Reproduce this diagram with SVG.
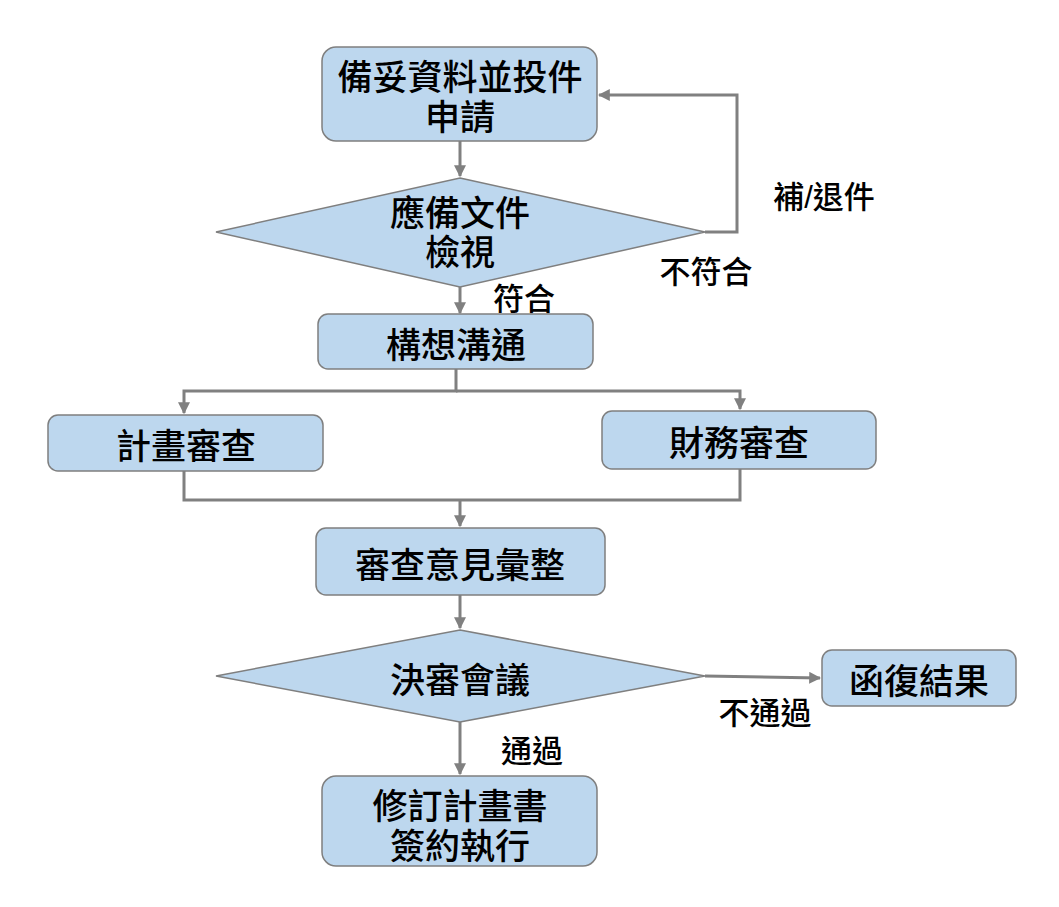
<svg xmlns="http://www.w3.org/2000/svg" width="1059" height="907" viewBox="0 0 1059 907">
<style>
.n{fill:#bdd7ee;stroke:#7f7f7f;stroke-width:1.5}
.t{font-family:"Liberation Sans","Noto Sans CJK TC","Noto Sans CJK SC",sans-serif;font-size:35px;font-weight:500;fill:#000;text-anchor:middle;dominant-baseline:central}
.l{font-family:"Liberation Sans","Noto Sans CJK TC","Noto Sans CJK SC",sans-serif;font-size:31px;font-weight:500;fill:#000;text-anchor:middle;dominant-baseline:central}
.c{fill:none;stroke:#808080;stroke-width:3}
</style>
<defs>
<marker id="a" viewBox="0 0 10 10" refX="9" refY="5" markerWidth="4" markerHeight="4" orient="auto" markerUnits="strokeWidth">
<path d="M0,0 L10,5 L0,10 z" fill="#808080"/>
</marker>
</defs>
<rect width="1059" height="907" fill="#fff"/>
<g id="connectors">
<path class="c" d="M460,141 V176" marker-end="url(#a)"/>
<path class="c" d="M705,232 H737 V95 H599" marker-end="url(#a)"/>
<path class="c" d="M460,287 V313" marker-end="url(#a)"/>
<path class="c" d="M456,369 V391 H184 V413" marker-end="url(#a)"/>
<path class="c" d="M456,391 H740 V409" marker-end="url(#a)"/>
<path class="c" d="M184,471 V500 H740 V469"/>
<path class="c" d="M460,500 V526" marker-end="url(#a)"/>
<path class="c" d="M460,595 V628" marker-end="url(#a)"/>
<path class="c" d="M705,676 L820,678" marker-end="url(#a)"/>
<path class="c" d="M460,722 V774" marker-end="url(#a)"/>
<text class="l" x="824" y="197">補/退件</text>
<text class="l" x="706" y="272">不符合</text>
<text class="l" x="524" y="299">符合</text>
<text class="l" x="765" y="713">不通過</text>
<text class="l" x="532" y="751">通過</text>
</g>
<g id="n1"><rect class="n" x="322" y="47" width="275" height="94" rx="14"/><text class="t"><tspan x="460" y="77">備妥資料並投件</tspan><tspan x="460" y="117">申請</tspan></text></g>
<g id="n2"><polygon class="n" points="460,178 705,232 460,287 216,232"/><text class="t"><tspan x="460" y="213">應備文件</tspan><tspan x="460" y="252">檢視</tspan></text></g>
<g id="n3"><rect class="n" x="318" y="314" width="275" height="55" rx="10"/><text class="t" x="456" y="345">構想溝通</text></g>
<g id="n4"><rect class="n" x="48" y="415" width="275" height="56" rx="10"/><text class="t" x="186" y="446">計畫審查</text></g>
<g id="n5"><rect class="n" x="602" y="411" width="274" height="58" rx="10"/><text class="t" x="739" y="443">財務審查</text></g>
<g id="n6"><rect class="n" x="316" y="528" width="289" height="67" rx="10"/><text class="t" x="460" y="565">審查意見彙整</text></g>
<g id="n7"><polygon class="n" points="460,630 705,676 460,722 216,676"/><text class="t" x="460" y="680">決審會議</text></g>
<g id="n8"><rect class="n" x="822" y="650" width="194" height="56" rx="10"/><text class="t" x="919" y="681">函復結果</text></g>
<g id="n9"><rect class="n" x="322" y="776" width="275" height="90" rx="14"/><text class="t"><tspan x="460" y="806">修訂計畫書</tspan><tspan x="460" y="846">簽約執行</tspan></text></g>
</svg>
